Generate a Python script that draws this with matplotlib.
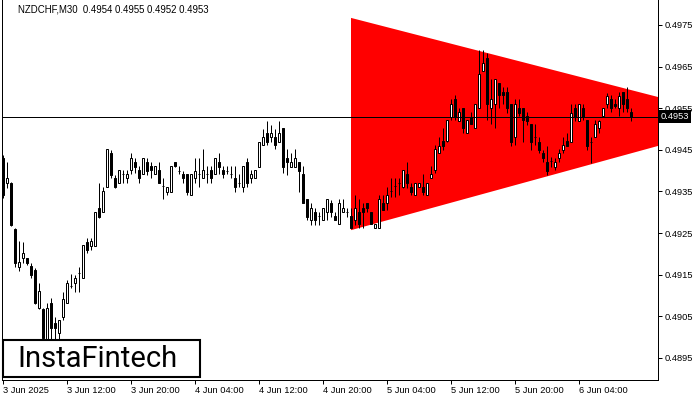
import matplotlib
matplotlib.use('Agg')
import matplotlib.pyplot as plt
import matplotlib.transforms as mtransforms
from matplotlib.patches import Polygon, Rectangle

title = "NZDCHF,M30  0.4954 0.4955 0.4952 0.4953"

opens = [0.49430, 0.49370, 0.49370, 0.49260, 0.49168, 0.49190, 0.49190, 0.49171, 0.49161, 0.49070,
         0.49067, 0.48993, 0.49082, 0.49034, 0.49010, 0.49048, 0.49082, 0.49121, 0.49130, 0.49152,
         0.49142, 0.49228, 0.49219, 0.49219, 0.49310, 0.49300, 0.49361, 0.49442, 0.49382, 0.49370,
         0.49392, 0.49382, 0.49401, 0.49421, 0.49401, 0.49392, 0.49421, 0.49411, 0.49392, 0.49401,
         0.49361, 0.49349, 0.49349, 0.49421, 0.49399, 0.49392, 0.49392, 0.49341, 0.49382, 0.49392,
         0.49382, 0.49392, 0.49401, 0.49392, 0.49421, 0.49401, 0.49399, 0.49392, 0.49382, 0.49370,
         0.49361, 0.49421, 0.49382, 0.49382, 0.49409, 0.49462, 0.49490, 0.49481, 0.49481, 0.49469,
         0.49502, 0.49430, 0.49409, 0.49409, 0.49421, 0.49392, 0.49332, 0.49281, 0.49300, 0.49291,
         0.49281, 0.49300, 0.49322, 0.49291, 0.49272, 0.49300, 0.49300, 0.49291, 0.49281, 0.49300,
         0.49310, 0.49322, 0.49300, 0.49262, 0.49262, 0.49322, 0.49322, 0.49349, 0.49361, 0.49370,
         0.49361, 0.49392, 0.49361, 0.49341, 0.49361, 0.49361, 0.49341, 0.49382, 0.49401, 0.49442,
         0.49471, 0.49471, 0.49529, 0.49572, 0.49519, 0.49550, 0.49490, 0.49529, 0.49502, 0.49550,
         0.49639, 0.49671, 0.49550, 0.49560, 0.49611, 0.49589, 0.49589, 0.49560, 0.49481, 0.49550,
         0.49550, 0.49531, 0.49512, 0.49481, 0.49469, 0.49442, 0.49421, 0.49421, 0.49409, 0.49430,
         0.49450, 0.49471, 0.49469, 0.49550, 0.49519, 0.49550, 0.49522, 0.49469, 0.49481, 0.49502,
         0.49531, 0.49560, 0.49572, 0.49560, 0.49550, 0.49589, 0.49572, 0.4954]
highs = [0.49438, 0.49421, 0.49373, 0.49262, 0.49231, 0.49228, 0.49190, 0.49178, 0.49166, 0.49130,
         0.49070, 0.49082, 0.49094, 0.49048, 0.49041, 0.49108, 0.49137, 0.49152, 0.49149, 0.49168,
         0.49221, 0.49238, 0.49238, 0.49300, 0.49370, 0.49361, 0.49452, 0.49450, 0.49389, 0.49401,
         0.49401, 0.49401, 0.49442, 0.49430, 0.49411, 0.49430, 0.49430, 0.49421, 0.49411, 0.49421,
         0.49382, 0.49361, 0.49411, 0.49421, 0.49411, 0.49399, 0.49392, 0.49392, 0.49430, 0.49430,
         0.49452, 0.49411, 0.49411, 0.49430, 0.49442, 0.49411, 0.49411, 0.49411, 0.49411, 0.49392,
         0.49411, 0.49430, 0.49401, 0.49401, 0.49469, 0.49500, 0.49519, 0.49510, 0.49500, 0.49519,
         0.49502, 0.49452, 0.49442, 0.49452, 0.49421, 0.49411, 0.49332, 0.49322, 0.49310, 0.49300,
         0.49310, 0.49332, 0.49329, 0.49300, 0.49332, 0.49332, 0.49310, 0.49310, 0.49341, 0.49332,
         0.49322, 0.49322, 0.49300, 0.49272, 0.49341, 0.49341, 0.49361, 0.49382, 0.49382, 0.49382,
         0.49401, 0.49421, 0.49370, 0.49370, 0.49370, 0.49392, 0.49370, 0.49411, 0.49462, 0.49481,
         0.49502, 0.49522, 0.49572, 0.49582, 0.49550, 0.49550, 0.49522, 0.49541, 0.49560, 0.49690,
         0.49690, 0.49683, 0.49620, 0.49620, 0.49611, 0.49601, 0.49601, 0.49560, 0.49572, 0.49572,
         0.49550, 0.49541, 0.49512, 0.49512, 0.49481, 0.49450, 0.49459, 0.49433, 0.49430, 0.49452,
         0.49481, 0.49490, 0.49560, 0.49560, 0.49560, 0.49560, 0.49522, 0.49481, 0.49522, 0.49522,
         0.49550, 0.49587, 0.49582, 0.49572, 0.49589, 0.49589, 0.49601, 0.4955]
lows = [0.49334, 0.49358, 0.49267, 0.49168, 0.49159, 0.49178, 0.49173, 0.49142, 0.49079, 0.49067,
        0.48981, 0.48986, 0.48993, 0.48993, 0.48993, 0.49041, 0.49082, 0.49118, 0.49108, 0.49108,
        0.49142, 0.49202, 0.49209, 0.49219, 0.49286, 0.49300, 0.49361, 0.49382, 0.49358, 0.49370,
        0.49370, 0.49370, 0.49392, 0.49394, 0.49370, 0.49392, 0.49389, 0.49382, 0.49392, 0.49370,
        0.49332, 0.49341, 0.49349, 0.49409, 0.49392, 0.49370, 0.49341, 0.49341, 0.49370, 0.49361,
        0.49382, 0.49370, 0.49370, 0.49392, 0.49392, 0.49382, 0.49392, 0.49382, 0.49349, 0.49361,
        0.49349, 0.49361, 0.49370, 0.49382, 0.49409, 0.49462, 0.49462, 0.49469, 0.49452, 0.49469,
        0.49394, 0.49389, 0.49409, 0.49409, 0.49349, 0.49322, 0.49281, 0.49269, 0.49269, 0.49269,
        0.49281, 0.49281, 0.49288, 0.49281, 0.49272, 0.49300, 0.49288, 0.49262, 0.49269, 0.49262,
        0.49262, 0.49300, 0.49272, 0.49262, 0.49262, 0.49305, 0.49305, 0.49337, 0.49337, 0.49341,
        0.49358, 0.49358, 0.49341, 0.49341, 0.49361, 0.49341, 0.49341, 0.49382, 0.49394, 0.49442,
        0.49450, 0.49469, 0.49522, 0.49522, 0.49519, 0.49490, 0.49490, 0.49512, 0.49502, 0.49550,
        0.49639, 0.49522, 0.49512, 0.49502, 0.49550, 0.49560, 0.49538, 0.49459, 0.49462, 0.49531,
        0.49469, 0.49510, 0.49450, 0.49462, 0.49442, 0.49421, 0.49389, 0.49409, 0.49401, 0.49421,
        0.49442, 0.49459, 0.49469, 0.49519, 0.49519, 0.49522, 0.49450, 0.49418, 0.49481, 0.49490,
        0.49529, 0.49550, 0.49541, 0.49550, 0.49531, 0.49541, 0.49541, 0.4952]
closes = [0.49341, 0.49382, 0.49269, 0.49178, 0.49180, 0.49202, 0.49178, 0.49149, 0.49082, 0.49111,
          0.48998, 0.49070, 0.49022, 0.49022, 0.49041, 0.49091, 0.49130, 0.49123, 0.49142, 0.49154,
          0.49221, 0.49209, 0.49231, 0.49300, 0.49288, 0.49351, 0.49452, 0.49389, 0.49361, 0.49401,
          0.49394, 0.49392, 0.49430, 0.49409, 0.49382, 0.49430, 0.49399, 0.49401, 0.49411, 0.49370,
          0.49363, 0.49361, 0.49411, 0.49411, 0.49401, 0.49382, 0.49349, 0.49392, 0.49399, 0.49394,
          0.49401, 0.49394, 0.49382, 0.49430, 0.49409, 0.49392, 0.49401, 0.49394, 0.49361, 0.49372,
          0.49411, 0.49370, 0.49392, 0.49401, 0.49469, 0.49481, 0.49469, 0.49490, 0.49462, 0.49490,
          0.49409, 0.49421, 0.49421, 0.49430, 0.49399, 0.49322, 0.49288, 0.49310, 0.49281, 0.49293,
          0.49310, 0.49332, 0.49300, 0.49281, 0.49322, 0.49310, 0.49302, 0.49262, 0.49310, 0.49272,
          0.49300, 0.49310, 0.49272, 0.49272, 0.49332, 0.49305, 0.49341, 0.49351, 0.49363, 0.49372,
          0.49401, 0.49370, 0.49349, 0.49370, 0.49370, 0.49349, 0.49370, 0.49392, 0.49452, 0.49459,
          0.49459, 0.49522, 0.49560, 0.49529, 0.49541, 0.49502, 0.49522, 0.49512, 0.49560, 0.49632,
          0.49659, 0.49560, 0.49572, 0.49620, 0.49582, 0.49582, 0.49550, 0.49469, 0.49560, 0.49538,
          0.49522, 0.49519, 0.49469, 0.49483, 0.49450, 0.49430, 0.49399, 0.49423, 0.49421, 0.49442,
          0.49462, 0.49459, 0.49538, 0.49529, 0.49560, 0.49529, 0.49459, 0.49471, 0.49512, 0.49519,
          0.49550, 0.49579, 0.49550, 0.49555, 0.49579, 0.49560, 0.49550, 0.4953]

current_price = 0.4953
y_ticks = [0.4975, 0.4965, 0.4955, 0.4945, 0.4935, 0.4925, 0.4915, 0.4905, 0.4895]
x_tick_pos = [0, 16, 32, 48, 64, 80, 96, 112, 128, 144]
x_tick_labels = ["3 Jun 2025", "3 Jun 12:00", "3 Jun 20:00", "4 Jun 04:00", "4 Jun 12:00",
                 "4 Jun 20:00", "5 Jun 04:00", "5 Jun 12:00", "5 Jun 20:00", "6 Jun 04:00"]
triangle_x = [87, 87, 186.75]
triangle_y = [0.49767, 0.49257, 0.49520]
logo_text = "InstaFintech"

W, H = 700, 400
fig = plt.figure(figsize=(7, 4), dpi=100)
fig.patch.set_facecolor('white')
ax = fig.add_axes([2 / W, 20 / H, 656 / W, 380 / H])
ax.set_xlim(-0.25, 163.75)
ax.set_ylim(0.48897, 0.49810)

# triangle pattern
ax.add_patch(Polygon(list(zip(triangle_x, triangle_y)), closed=True,
                     facecolor='#FF0000', edgecolor='none', zorder=1))

# candles
px = 0.72
for i, (o, h, l, c) in enumerate(zip(opens, highs, lows, closes)):
    ax.vlines(i, l, h, color='black', lw=px, zorder=2)
    bottom = min(o, c)
    height = abs(c - o)
    bull = c >= o
    if height < 0.000025:
        ax.hlines((o + c) / 2, i - 0.35, i + 0.35, color='black', lw=px, zorder=3)
    else:
        ax.bar(i, height, bottom=bottom, width=0.6,
               color='white' if bull else 'black', edgecolor='black', lw=px, zorder=3)

ax.axhline(current_price, color='black', lw=px, zorder=4)

ax.spines['top'].set_visible(False)
for s in ['left', 'right', 'bottom']:
    ax.spines[s].set_linewidth(px)
    ax.spines[s].set_color('black')

ax.yaxis.tick_right()
ax.set_yticks(y_ticks)
ax.set_yticklabels([f"{v:.4f}" for v in y_ticks])
ax.tick_params(axis='y', direction='out', length=3, width=px, labelsize=6.7, pad=2)
for t in ax.get_yticklabels():
    t.set_family('Liberation Sans')

ax.set_xticks(x_tick_pos)
ax.set_xticklabels(x_tick_labels)
ax.tick_params(axis='x', direction='out', length=3, width=px, labelsize=6.7, pad=1.5)
for t in ax.get_xticklabels():
    t.set_ha('left')
    t.set_family('Liberation Sans')

# current price tag
trans = mtransforms.blended_transform_factory(ax.transAxes, ax.transData)
ax.text(1.004, current_price, "0.4953", transform=trans, ha='left', va='center',
        fontsize=6.7, family='Liberation Sans', color='white', zorder=6,
        bbox=dict(facecolor='black', edgecolor='none', pad=1.3), clip_on=False)

fig.text(18 / W, 1 - 10 / H, title, fontsize=6.9, family='Liberation Sans',
         ha='left', va='center')

# logo
fig.patches.append(Rectangle((3 / W, 23 / H), 197 / W, 37 / H, transform=fig.transFigure,
                             facecolor='white', edgecolor='black', lw=1.5, zorder=10))
fig.text(97 / W, 1 - 359 / H, logo_text, fontsize=21, ha='center', va='center',
         family='Roboto', weight='normal', color='black', zorder=11)

fig.savefig('out.png', dpi=100)
